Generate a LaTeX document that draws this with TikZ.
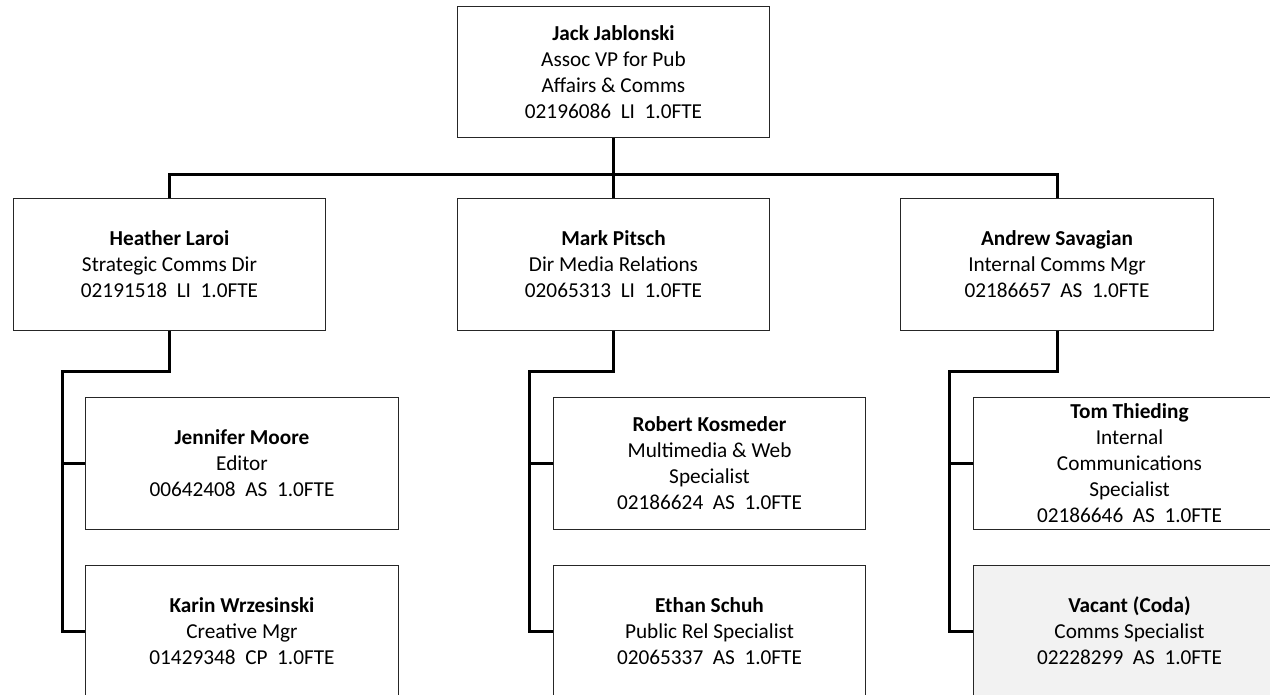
\documentclass[tikz,border=0pt]{standalone}
\usepackage{fontspec}
\setmainfont{Carlito}
\tikzset{
  person/.style={draw=black!85, line width=0.02cm, fill=white, minimum width=6.26cm,
    minimum height=2.64cm, inner sep=0pt, align=center,
    font=\fontsize{12.1}{14.8}\selectfont},
  vacant/.style={person, fill=black!5},
  link/.style={line width=0.06cm, black}
}
\begin{document}
\begin{tikzpicture}[x=0.02cm, y=-0.02cm]
    \useasboundingbox (0,0) rectangle (1270,694);
    \clip (0,0) rectangle (1270,694);
    % Top
    \node[person] (jack) at (613.5,72) {\textbf{Jack Jablonski}\\Assoc VP for Pub\\Affairs \& Comms\\02196086\ \ LI\ \ 1.0FTE};
    % Directors
    \node[person] (heather) at (169.5,264.5) {\textbf{Heather Laroi}\\Strategic Comms Dir\\02191518\ \ LI\ \ 1.0FTE};
    \node[person] (mark) at (613.5,264.5) {\textbf{Mark Pitsch}\\Dir Media Relations\\02065313\ \ LI\ \ 1.0FTE};
    \node[person] (andrew) at (1057,264.5) {\textbf{Andrew Savagian}\\Internal Comms Mgr\\02186657\ \ AS\ \ 1.0FTE};
    % Staff
    \node[person] (jennifer) at (242,463) {\textbf{Jennifer Moore}\\Editor\\00642408\ \ AS\ \ 1.0FTE};
    \node[person] (karin) at (242,631) {\textbf{Karin Wrzesinski}\\Creative Mgr\\01429348\ \ CP\ \ 1.0FTE};
    \node[person] (robert) at (709.5,463) {\textbf{Robert Kosmeder}\\Multimedia \& Web\\Specialist\\02186624\ \ AS\ \ 1.0FTE};
    \node[person] (ethan) at (709.5,631) {\textbf{Ethan Schuh}\\Public Rel Specialist\\02065337\ \ AS\ \ 1.0FTE};
    \node[person] (tom) at (1129.5,463) {\textbf{Tom Thieding}\\Internal\\Communications\\Specialist\\02186646\ \ AS\ \ 1.0FTE};
    \node[vacant] (coda) at (1129.5,631) {\textbf{Vacant (Coda)}\\Comms Specialist\\02228299\ \ AS\ \ 1.0FTE};
    % Links
    \coordinate (bus) at (613.5,174);
    \draw[link] (jack.south) -- (mark.north);
    \draw[link] (heather.north) -- (heather.north |- bus) -- (andrew.north |- bus) -- (andrew.north);
    \foreach \boss/\first/\second/\sx in {heather/jennifer/karin/62, mark/robert/ethan/529, andrew/tom/coda/949} {
        \coordinate (spine) at (\sx,371);
        \draw[link] (\boss.south) |- (spine) |- (\second.west);
        \draw[link] (spine |- \first.west) -- (\first.west);
    }
\end{tikzpicture}
\end{document}
